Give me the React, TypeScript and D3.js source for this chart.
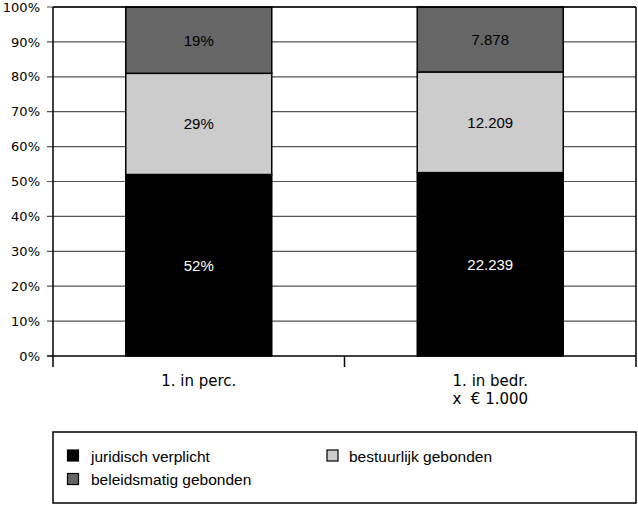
import React from "react";
import * as d3 from "d3";

const categories = ["1. in perc.", "1. in bedr.\nx\u00a0\u00a0€ 1.000"];
const seriesNames = ["juridisch verplicht", "bestuurlijk gebonden", "beleidsmatig gebonden"];
const seriesColors = ["#000000", "#cccccc", "#666666"];
const rawValues = [
  [52, 29, 19],
  [22239, 12209, 7878],
];
const barLabels = [
  ["52%", "29%", "19%"],
  ["22.239", "12.209", "7.878"],
];
const labelColors = ["#ffffff", "#000000", "#000000"];
const yTicks = [0, 10, 20, 30, 40, 50, 60, 70, 80, 90, 100];

export default function App() {
  const W = 638, H = 505;
  const left = 53, right = 636, top = 7, bottom = 356;
  const x = d3.scaleBand<string>().domain(categories).range([left, right]).paddingInner(0).paddingOuter(0);
  const y = d3.scaleLinear().domain([0, 100]).range([bottom, top]);
  const barW = 146;
  const font = "'Liberation Sans', Arial, sans-serif";
  const wide = "'DejaVu Sans', Verdana, sans-serif";

  return (
    <svg width={W} height={H} style={{ position: "absolute", left: 0, top: 0 }} fontFamily={font}>
      <rect x={0} y={0} width={W} height={H} fill="#fff" />
      {yTicks.map((t) => (
        <g key={t}>
          <line x1={left - 6} x2={right} y1={y(t)} y2={y(t)} stroke={t === 0 ? "#000" : "#555"} strokeWidth={t === 0 ? 1.5 : 1.2} />
          <text x={40} y={y(t)} dy="0.36em" textAnchor="end" fontSize={13} fontFamily={wide}>{t}%</text>
        </g>
      ))}
      {categories.map((c, i) => {
        const vals = rawValues[i];
        const total = d3.sum(vals);
        const cx = (x(c) as number) + x.bandwidth() / 2;
        let cum = 0;
        return (
          <g key={c}>
            {vals.map((v, j) => {
              const p0 = (cum / total) * 100;
              cum += v;
              const p1 = (cum / total) * 100;
              const yTop = y(p1), yBot = y(p0);
              return (
                <g key={j}>
                  <rect x={cx - barW / 2} y={yTop} width={barW} height={yBot - yTop} fill={seriesColors[j]} stroke="#000" strokeWidth={1.5} />
                  <text x={cx} y={(yTop + yBot) / 2} dy="0.36em" textAnchor="middle" fontSize={15} fill={labelColors[j]}>{barLabels[i][j]}</text>
                </g>
              );
            })}
            {c.split("\n").map((line, k) => (
              <text key={k} x={cx} y={386 + k * 17.5} textAnchor="middle" fontSize={15} fontFamily={wide}>{line}</text>
            ))}
          </g>
        );
      })}
      {/* plot frame */}
      <line x1={left} x2={left} y1={top} y2={bottom + 11} stroke="#000" strokeWidth={1.5} />
      <line x1={right} x2={right} y1={top} y2={bottom + 11} stroke="#000" strokeWidth={1.5} />
      <line x1={left} x2={right} y1={top} y2={top} stroke="#000" strokeWidth={1.5} />
      <line x1={left + x.bandwidth()} x2={left + x.bandwidth()} y1={bottom} y2={bottom + 11} stroke="#000" strokeWidth={1.5} />
      {/* legend */}
      <rect x={53} y={432} width={583} height={71} fill="#fff" stroke="#000" strokeWidth={1.5} />
      {seriesNames.map((s, i) => {
        const lx = i === 1 ? 327 : 67.5;
        const ly = i === 2 ? 473.5 : 450;
        return (
          <g key={s}>
            <rect x={lx} y={ly} width={11} height={11} fill={seriesColors[i]} stroke="#000" strokeWidth={1.2} />
            <text x={i === 1 ? 349 : 91} y={ly + 11.5} fontSize={15.5}>{s}</text>
          </g>
        );
      })}
    </svg>
  );
}
